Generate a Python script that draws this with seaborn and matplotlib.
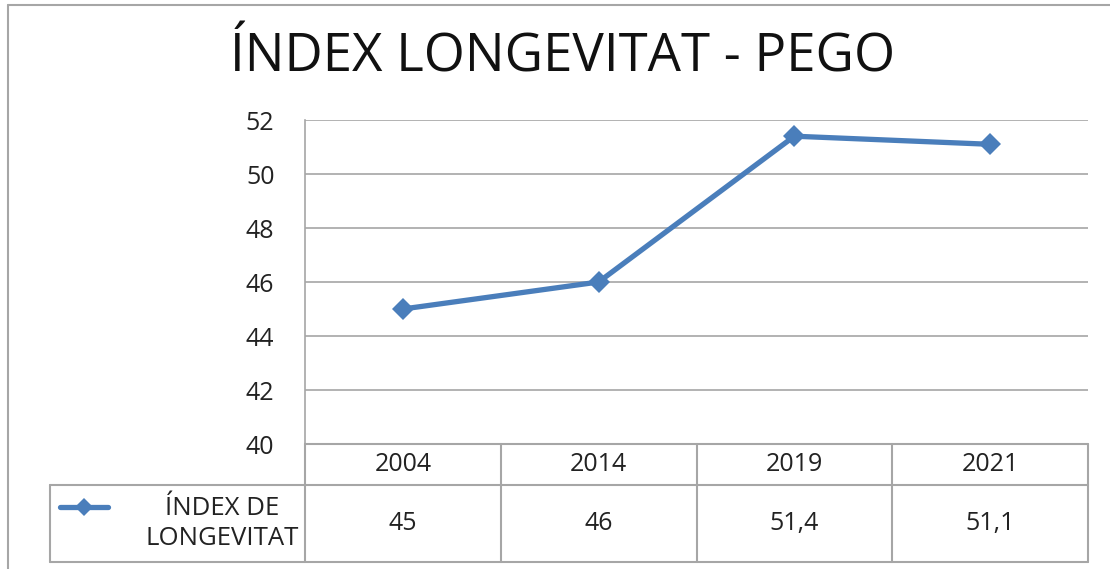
import matplotlib
matplotlib.use("Agg")
import matplotlib.pyplot as plt
import matplotlib.lines as mlines
import seaborn as sns
import pandas as pd

# data
years = ["2004", "2014", "2019", "2021"]
values = [45, 46, 51.4, 51.1]
value_labels = ["45", "46", "51,4", "51,1"]
series_name = "ÍNDEX DE\nLONGEVITAT"
title = "ÍNDEX LONGEVITAT - PEGO"

df = pd.DataFrame({"year": years, "value": values})

sns.set_style("white")
plt.rcParams["font.family"] = ["Open Sans", "DejaVu Sans"]

blue = "#4A7EBB"
grey = "#A6A6A6"
W, H = 1110, 569

fig = plt.figure(figsize=(W / 100, H / 100), dpi=100)

# outer frame (left and top only)
fig.add_artist(mlines.Line2D([8 / W, 8 / W], [0, 1 - 5 / H], color=grey, lw=1.5))
fig.add_artist(mlines.Line2D([8 / W, 1], [1 - 5 / H, 1 - 5 / H], color=grey, lw=1.5))

fig.text(563 / W, 1 - 58 / H, title, ha="center", va="center", fontsize=38,
         color="#111111")

# main plot
ax = fig.add_axes([305 / W, (H - 444) / H, (1088 - 305) / W, (444 - 120) / H])
sns.lineplot(data=df, x="year", y="value", ax=ax, color=blue, lw=3.8,
             marker="D", markersize=11, markeredgewidth=0, sort=False)
ax.set_xlim(-0.5, 3.5)
ax.set_ylim(40, 52)
ax.set_yticks(range(40, 53, 2))
ax.yaxis.grid(True, color=grey, lw=1.2)
ax.set_xticks([])
ax.set_xlabel("")
ax.set_ylabel("")
for s in ["top", "right", "bottom"]:
    ax.spines[s].set_visible(False)
ax.spines["left"].set_color(grey)
ax.spines["left"].set_linewidth(1.2)
ax.tick_params(axis="y", labelsize=18, pad=22, length=0, colors="#222222")

# data table under the axis
upx = (1088 - 305) / 4
left_units = -0.5 - (305 - 50) / upx
tab = fig.add_axes([50 / W, (H - 562) / H, (1088 - 50) / W, (562 - 444) / H])
tab.set_xlim(left_units, 3.5)
tab.set_ylim(0, 118)
tab.axis("off")
mid = 77
kw = dict(color=grey, lw=1.5, clip_on=False)
tab.plot([-0.5, 3.5], [118, 118], **kw)
tab.plot([left_units, 3.5], [mid, mid], **kw)
tab.plot([left_units, 3.5], [0, 0], **kw)
tab.plot([left_units, left_units], [0, mid], **kw)
for i in range(5):
    tab.plot([i - 0.5, i - 0.5], [0, 118], **kw)
for i, (y, v) in enumerate(zip(years, value_labels)):
    tab.text(i, (118 + mid) / 2, y, ha="center", va="center", fontsize=18, color="#222222")
    tab.text(i, mid / 2, v, ha="center", va="center", fontsize=18, color="#222222")
# legend key in row header
lx0 = left_units + 10 / upx
lx1 = left_units + 58 / upx
tab.plot([lx0, lx1], [mid * 0.72, mid * 0.72], color=blue, lw=3.8, solid_capstyle="round")
tab.plot([(lx0 + lx1) / 2], [mid * 0.72], marker="D", color=blue, markersize=9, markeredgewidth=0)
tab.text(-0.5 - 6 / upx, mid / 2, series_name, ha="right", va="center", fontsize=18.5,
         color="#222222", linespacing=1.25, multialignment="center")

fig.savefig("out.png", dpi=100)
